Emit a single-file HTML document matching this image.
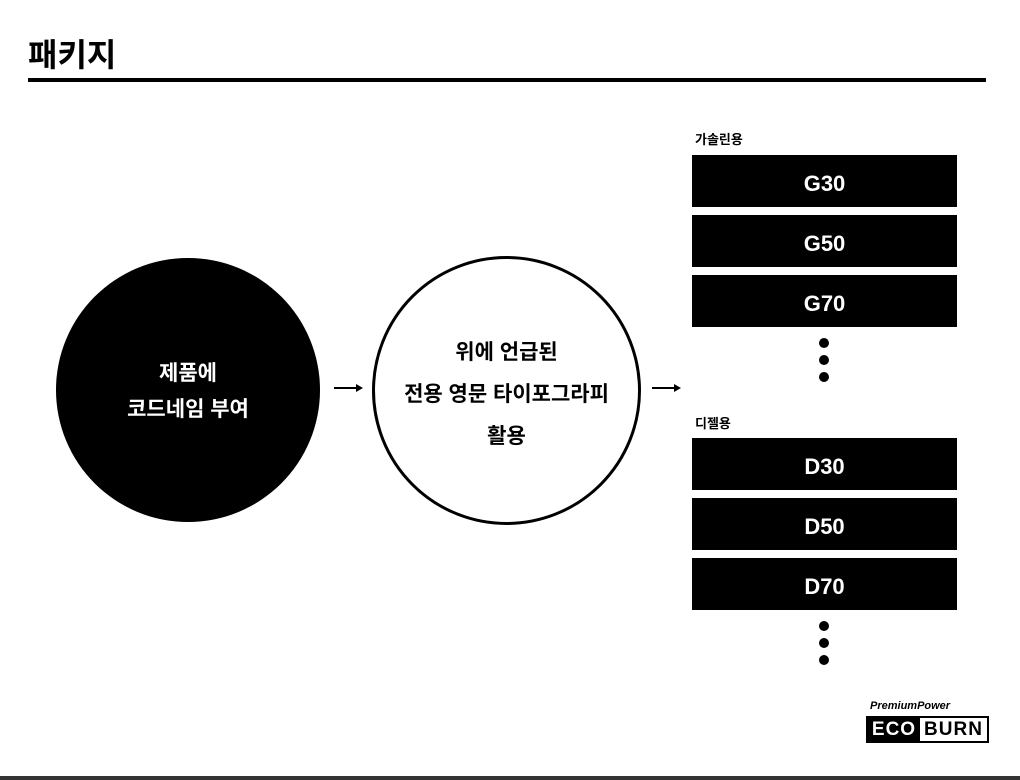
<!DOCTYPE html>
<html><head><meta charset="utf-8"><style>
body{margin:0;width:1020px;height:780px;background:#fff;position:relative;overflow:hidden;font-family:"Liberation Sans","Noto Sans CJK KR",sans-serif;font-weight:bold}
.a{position:absolute}
.box{position:absolute;left:692px;width:265px;height:52px;background:#000;color:#fff;font-size:22px;display:flex;align-items:center;justify-content:center;box-sizing:border-box;padding-top:6px}
.dot{position:absolute;left:819px;width:10px;height:10px;border-radius:50%;background:#000}
.lbl{position:absolute;left:695px;font-size:13px}
.c{position:absolute;border-radius:50%;display:flex;align-items:center;justify-content:center;text-align:center;box-sizing:border-box}
</style></head><body>
<div class="a" style="left:28px;top:30px;font-size:32px;">패키지</div>
<div class="a" style="left:28px;top:78px;width:958px;height:4px;background:#000"></div>

<div class="c" style="left:56px;top:258px;width:264px;height:264px;background:#000;color:#fff;font-size:21px;line-height:36px;padding-top:4px">제품에<br>코드네임 부여</div>
<div class="c" style="left:372px;top:256px;width:269px;height:269px;border:3px solid #000;font-size:21px;line-height:42px;padding-top:8px">위에 언급된<br>전용 영문 타이포그라피<br>활용</div>

<svg class="a" style="left:330px;top:380px" width="40" height="16"><line x1="4" y1="8" x2="28" y2="8" stroke="#000" stroke-width="2"/><path d="M26 4 L33 8 L26 12Z" fill="#000"/></svg>
<svg class="a" style="left:648px;top:380px" width="40" height="16"><line x1="4" y1="8" x2="28" y2="8" stroke="#000" stroke-width="2"/><path d="M26 4 L33 8 L26 12Z" fill="#000"/></svg>

<div class="lbl" style="top:129px">가솔린용</div>
<div class="box" style="top:155px">G30</div>
<div class="box" style="top:215px">G50</div>
<div class="box" style="top:275px">G70</div>
<div class="dot" style="top:338px"></div><div class="dot" style="top:355px"></div><div class="dot" style="top:372px"></div>

<div class="lbl" style="top:413px">디젤용</div>
<div class="box" style="top:438px">D30</div>
<div class="box" style="top:498px">D50</div>
<div class="box" style="top:558px">D70</div>
<div class="dot" style="top:621px"></div><div class="dot" style="top:638px"></div><div class="dot" style="top:655px"></div>

<div class="a" style="left:870px;top:700px;font-size:11px;font-style:italic">PremiumPower</div>
<div class="a" style="left:866px;top:716px;width:119px;height:23px;border:2px solid #000;display:flex">
<div style="width:52px;background:#000;color:#fff;font-size:19px;line-height:23px;text-align:center;letter-spacing:1px">ECO</div>
<div style="flex:1;color:#000;font-size:19px;line-height:23px;text-align:center;letter-spacing:1px">BURN</div>
</div>
<div class="a" style="left:0;top:776px;width:1020px;height:4px;background:#333"></div>
</body></html>
